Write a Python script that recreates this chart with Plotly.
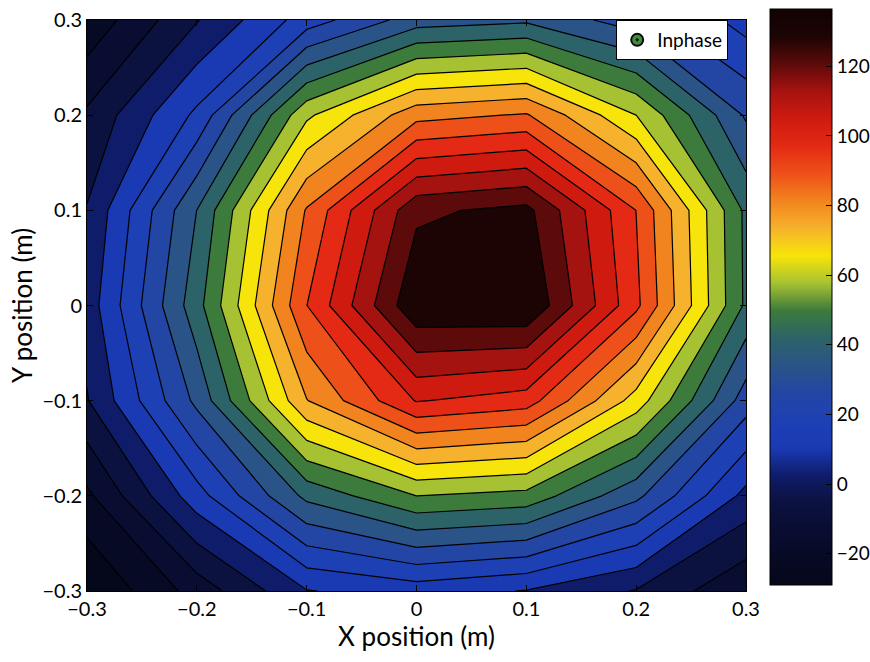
import plotly.graph_objects as go

# ---- data -----------------------------------------------------------------
x_pos = [-0.3, -0.2, -0.1, 0.0, 0.1, 0.2, 0.3]
y_pos = [-0.3, -0.2, -0.1, 0.0, 0.1, 0.2, 0.3]

# Inphase values, one list per row (y = -0.3 ... 0.3), columns follow x_pos
row_y_m03 = [-29.0, -10.0, 10.0, 14.0, 10.0, 2.0, -12.0]
row_y_m02 = [-15.0, 15.0, 44.0, 57.7, 55.0, 36.0, 8.0]
row_y_m01 = [2.0, 36.0, 81.0, 105.5, 101.0, 70.0, 30.0]
row_y_000 = [6.0, 46.8, 97.0, 135.5, 136.5, 99.0, 48.3]
row_y_p01 = [3.0, 42.0, 90.0, 127.0, 131.0, 97.0, 48.0]
row_y_p02 = [-4.0, 20.0, 64.0, 86.5, 90.0, 65.6, 33.0]
row_y_p03 = [-19.0, 2.0, 22.0, 38.0, 40.4, 30.0, 15.0]

x_tick_labels = ["\u22120.3", "\u22120.2", "\u22120.1", "0", "0.1", "0.2", "0.3"]
y_tick_labels = ["\u22120.3", "\u22120.2", "\u22120.1", "0", "0.1", "0.2", "0.3"]
cbar_ticks = [-20, 0, 20, 40, 60, 80, 100, 120]

# ---- styling ---------------------------------------------------------------
z = [row_y_m03, row_y_m02, row_y_m01, row_y_000, row_y_p01, row_y_p02, row_y_p03]
zmin = min(min(r) for r in z)
zmax = max(max(r) for r in z)
n_levels = 20
step = (zmax - zmin) / (n_levels + 1)
start = zmin + step
end = zmin + n_levels * step

band_colors = [
    "#05071a", "#070a24", "#090d31", "#0b1240", "#0f1c6a",
    "#1a3ab4", "#1d40b4", "#2346a4", "#2a5487", "#2c6368",
    "#3c7b3c", "#a6c232", "#f7e40a", "#f6b22c", "#f2841f",
    "#ee5019", "#e42a14", "#cf1a10", "#a51310", "#5c0a0a", "#1c0404",
]
nb = len(band_colors) - 1
fill_scale = [[k / nb, c] for k, c in enumerate(band_colors)]
bar_scale = [[k / (nb + 1), c] for k, c in enumerate(band_colors)] + [[1.0, "#120202"]]

FONT = "Lato"

fig = go.Figure()

fig.add_trace(go.Contour(
    x=x_pos, y=y_pos, z=z,
    contours=dict(start=start, end=end + step * 1e-3, size=step, coloring="fill"),
    colorscale=fill_scale,
    line=dict(color="black", width=1.2, smoothing=0),
    showscale=False,
    name="Inphase",
    showlegend=False,
    hoverinfo="skip",
))

# continuous colour bar (MATLAB-style), drawn from a hidden heatmap
fig.add_trace(go.Heatmap(
    x=[5, 6], y=[5, 6], z=[[zmin, zmax], [zmin, zmax]],
    zmin=zmin, zmax=zmax,
    colorscale=bar_scale,
    showscale=True,
    hoverinfo="skip",
    colorbar=dict(
        x=1.036, xanchor="left", xpad=0,
        y=0.515, yanchor="middle", ypad=0,
        thickness=62, thicknessmode="pixels",
        len=576, lenmode="pixels",
        outlinecolor="black", outlinewidth=1,
        tickvals=cbar_ticks,
        ticktext=[("\u2212" + str(-t)) if t < 0 else str(t) for t in cbar_ticks],
        ticks="inside", ticklen=6, tickcolor="black",
        tickfont=dict(family=FONT, size=19, color="black"),
    ),
))

# legend entry
fig.add_trace(go.Scatter(
    x=[None], y=[None], mode="markers", name="Inphase",
    marker=dict(symbol="circle-dot", size=20, color="#3f8c3c",
                line=dict(color="#0a0a0a", width=5)),
    showlegend=True,
))

axis_common = dict(
    showline=True, linecolor="black", linewidth=1, mirror="ticks",
    ticks="inside", ticklen=6, tickcolor="black",
    showgrid=False, zeroline=False, automargin=False,
    ticklabeloverflow="allow",
    tickfont=dict(family=FONT, size=20, color="black"),
)

fig.update_layout(
    width=870, height=662,
    margin=dict(l=87, r=124, t=20, b=71, autoexpand=False),
    paper_bgcolor="white", plot_bgcolor="white",
    font=dict(family=FONT, color="black"),
    xaxis=dict(range=[-0.3, 0.3], tickvals=x_pos, ticktext=x_tick_labels,
               title=dict(text="X position (m)", font=dict(family=FONT, size=26), standoff=2),
               **axis_common),
    yaxis=dict(range=[-0.3, 0.3], tickvals=y_pos, ticktext=y_tick_labels,
               title=dict(text="Y position (m)", font=dict(family=FONT, size=26), standoff=2),
               **axis_common),
    legend=dict(x=0.973, xanchor="right", y=1.0, yanchor="top",
                bgcolor="white", bordercolor="black", borderwidth=1,
                font=dict(family=FONT, size=19, color="black"),
                itemsizing="constant", tracegroupgap=0),
)

fig.write_html(
    "out.html",
    config={"displayModeBar": False},
    post_script="document.body.style.margin='0px';document.body.style.overflow='hidden';",
)
